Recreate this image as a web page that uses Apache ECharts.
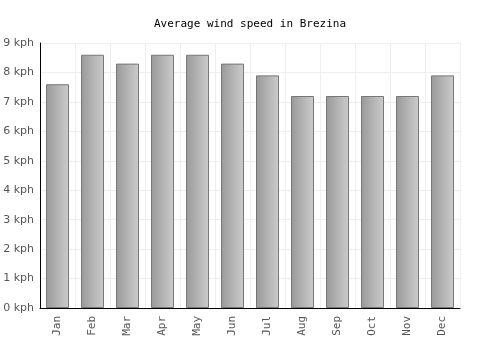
<!DOCTYPE html>
<html>
<head>
    <meta charset="UTF-8">
    <title>Average wind speed in Brezina</title>
    <script src="https://cdn.jsdelivr.net/npm/echarts@6/dist/echarts.min.js"></script>
</head>
<body style="margin:0">
    <div id="main" style="width: 500px;height:350px;"></div>
    <script>
        var months = ['Jan', 'Feb', 'Mar', 'Apr', 'May', 'Jun', 'Jul', 'Aug', 'Sep', 'Oct', 'Nov', 'Dec'];
        var windSpeed = [7.6, 8.6, 8.3, 8.6, 8.6, 8.3, 7.9, 7.2, 7.2, 7.2, 7.2, 7.9];
        var yTicks = [0, 1, 2, 3, 4, 5, 6, 7, 8, 9];

        var chart = echarts.init(document.getElementById('main'));
        chart.setOption({
            animation: false,
            title: {
                text: 'Average wind speed in Brezina',
                left: 'center',
                top: 14,
                textStyle: {fontFamily: 'DejaVu Sans Mono', fontSize: 11, fontWeight: 'normal', color: '#000'}
            },
            grid: {left: 40, right: 40, top: 43, bottom: 42},
            xAxis: {
                type: 'category',
                data: months,
                axisLine: {lineStyle: {color: '#000', width: 1}},
                axisTick: {show: false},
                axisLabel: {rotate: 90, fontFamily: 'DejaVu Sans Mono', fontSize: 11, color: '#555', margin: 8},
                splitLine: {show: true, lineStyle: {color: '#eee'}}
            },
            yAxis: {
                type: 'value',
                min: yTicks[0],
                max: yTicks[yTicks.length - 1],
                interval: 1,
                axisLine: {show: true, lineStyle: {color: '#000', width: 1}},
                axisTick: {show: false},
                axisLabel: {
                    fontFamily: 'DejaVu Sans', fontSize: 11, color: '#555', margin: 6,
                    formatter: function (v) { return v + ' kph'; }
                },
                splitLine: {lineStyle: {color: '#eee'}}
            },
            series: [{
                type: 'bar',
                data: windSpeed,
                barWidth: 23,
                itemStyle: {
                    borderColor: '#777',
                    borderWidth: 1,
                    color: new echarts.graphic.LinearGradient(0, 0, 1, 0, [
                        {offset: 0, color: '#999'},
                        {offset: 1, color: '#ccc'}
                    ])
                }
            }]
        });
    </script>
</body>
</html>
